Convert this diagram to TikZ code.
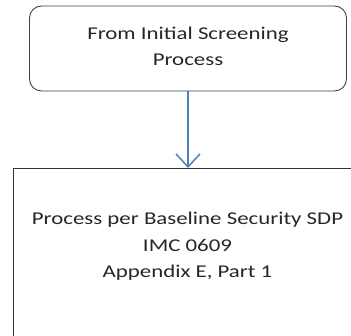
\documentclass[tikz,border=0pt]{standalone}
\usepackage{fontspec}
\setmainfont{Carlito}
\newfontfamily\widefont[FakeStretch=1.27]{Carlito}
\usetikzlibrary{arrows.meta}
\definecolor{arrowblue}{HTML}{4F81BD}
\definecolor{boxline}{HTML}{404040}
\tikzset{
  startbox/.style={draw=boxline, line width=0.9pt, rounded corners=12pt, minimum width=317pt, minimum height=85pt, inner sep=0pt},
  procbox/.style={draw=black!80, line width=0.9pt, minimum width=400pt, minimum height=300pt, anchor=north west, inner sep=0pt},
  txt/.style={align=center, font=\widefont\fontsize{18}{26.5}\selectfont, text=black!85},
  flow/.style={draw=arrowblue, line width=1.8pt, -{Straight Barb[length=13pt, width=24pt, line width=1.5pt]}}
}
\begin{document}
\begin{tikzpicture}[x=1pt,y=-1pt]
\useasboundingbox (0,0) rectangle (351,336);
\clip (0,0) rectangle (351,336);
\node[startbox] (start) at (188,48.5) {};
\node[txt] (starttext) at (188,46.5) {From Initial Screening\\Process};
\node[procbox] (proc) at (13,168) {};
\node[txt] (proctext) at (187.5,246.5) {Process per Baseline Security SDP\\IMC 0609\\Appendix E, Part 1};
\draw[flow] (start.south -| 188,0) -- (proc.north -| 188,0);
\end{tikzpicture}
\end{document}
